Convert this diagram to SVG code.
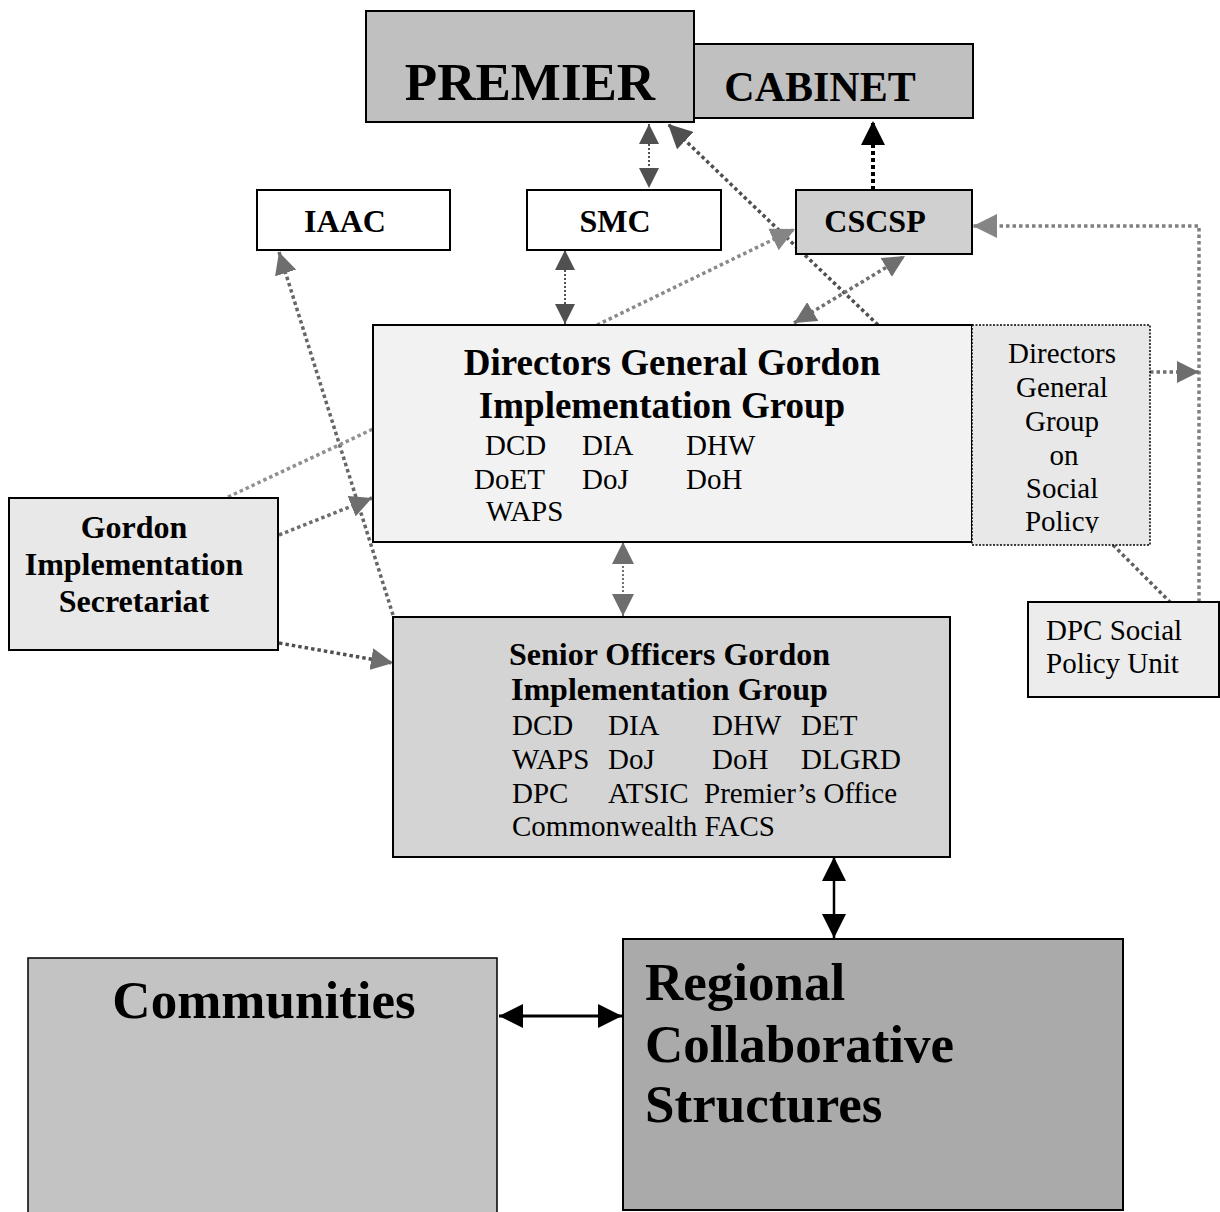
<svg xmlns="http://www.w3.org/2000/svg" width="1220" height="1212" viewBox="0 0 1220 1212">
<style>
text{font-family:"Liberation Serif","Times New Roman",serif;fill:#000}
.b{font-weight:bold}
.box{stroke:#000;stroke-width:2}
.r28{font-size:29px}
.b32{font-size:32px;font-weight:bold}
.thin{fill:none;stroke-width:2;stroke-dasharray:2 2}
.thick{fill:none;stroke-width:3.5;stroke-dasharray:3.5 3}
</style>
<defs>
<marker id="aDark" viewBox="0 0 10 10" refX="10" refY="5" markerWidth="20" markerHeight="20" markerUnits="userSpaceOnUse" orient="auto-start-reverse"><path d="M0,0 L10,5 L0,10 z" fill="#505050"/></marker>
<marker id="aDarkL" viewBox="0 0 10 10" refX="10" refY="5" markerWidth="24" markerHeight="24" markerUnits="userSpaceOnUse" orient="auto-start-reverse"><path d="M0,0 L10,5 L0,10 z" fill="#505050"/></marker>
<marker id="aMid" viewBox="0 0 10 10" refX="10" refY="5" markerWidth="22" markerHeight="22" markerUnits="userSpaceOnUse" orient="auto-start-reverse"><path d="M0,0 L10,5 L0,10 z" fill="#6e6e6e"/></marker>
<marker id="aLight" viewBox="0 0 10 10" refX="10" refY="5" markerWidth="24" markerHeight="24" markerUnits="userSpaceOnUse" orient="auto-start-reverse"><path d="M0,0 L10,5 L0,10 z" fill="#858585"/></marker>
<marker id="aBlack" viewBox="0 0 10 10" refX="10" refY="5" markerWidth="24" markerHeight="24" markerUnits="userSpaceOnUse" orient="auto-start-reverse"><path d="M0,0 L10,5 L0,10 z" fill="#000"/></marker>
<clipPath id="dggClip"><rect x="972" y="325" width="178" height="208"/></clipPath>
</defs>

<rect width="1220" height="1212" fill="#fff"/>

<g id="connectors">
  <line class="thin" x1="649" y1="124" x2="649" y2="188" stroke="#505050" marker-start="url(#aDark)" marker-end="url(#aDark)"/>
  <line x1="873" y1="190" x2="873" y2="121" fill="none" stroke="#000" stroke-width="4" stroke-dasharray="4 3" marker-end="url(#aBlack)"/>
  <line class="thick" x1="878" y1="325" x2="668" y2="124" stroke="#505050" marker-end="url(#aDarkL)"/>
  <line class="thin" x1="565" y1="250" x2="565" y2="324" stroke="#505050" marker-start="url(#aDark)" marker-end="url(#aDark)"/>
  <line class="thick" x1="597" y1="325" x2="795" y2="229" stroke="#8a8a8a" marker-end="url(#aLight)"/>
  <line class="thick" x1="794" y1="323" x2="905" y2="256" stroke="#707070" marker-start="url(#aMid)" marker-end="url(#aMid)"/>
  <polyline class="thick" points="1199,602 1199,226 973,226" stroke="#808080" marker-end="url(#aLight)"/>
  <line class="thick" x1="1150" y1="372" x2="1199" y2="372" stroke="#707070" marker-end="url(#aMid)"/>
  <line class="thick" x1="1113" y1="545" x2="1170" y2="602" stroke="#606060"/>
  <line class="thick" x1="393" y1="615" x2="279" y2="252" stroke="#666" marker-end="url(#aMid)"/>
  <line class="thick" x1="228" y1="497" x2="373" y2="429" stroke="#909090"/>
  <line class="thick" x1="279" y1="535" x2="372" y2="498" stroke="#6e6e6e" marker-end="url(#aMid)"/>
  <line class="thick" x1="279" y1="643" x2="393" y2="663" stroke="#505050" marker-end="url(#aMid)"/>
  <line class="thin" x1="623" y1="542" x2="623" y2="616" stroke="#707070" marker-start="url(#aMid)" marker-end="url(#aMid)"/>
  <line x1="834" y1="857" x2="834" y2="938" stroke="#000" stroke-width="2.5" marker-start="url(#aBlack)" marker-end="url(#aBlack)"/>
  <line x1="499" y1="1016" x2="622" y2="1016" stroke="#000" stroke-width="3" marker-start="url(#aBlack)" marker-end="url(#aBlack)"/>
</g>

<g id="premier">
  <rect class="box" x="366" y="11" width="328" height="111" fill="#c0c0c0"/>
  <text class="b" x="530" y="100" font-size="53" text-anchor="middle">PREMIER</text>
</g>
<g id="cabinet">
  <rect class="box" x="694" y="44" width="279" height="74" fill="#c0c0c0"/>
  <text class="b" x="820" y="101" font-size="42" text-anchor="middle">CABINET</text>
</g>
<g id="iaac">
  <rect class="box" x="257" y="190" width="193" height="60" fill="#fff"/>
  <text class="b32" x="345" y="232" text-anchor="middle">IAAC</text>
</g>
<g id="smc">
  <rect class="box" x="527" y="190" width="194" height="60" fill="#fff"/>
  <text class="b32" x="615" y="232" text-anchor="middle">SMC</text>
</g>
<g id="cscsp">
  <rect class="box" x="796" y="190" width="176" height="64" fill="#d0d0d0"/>
  <text class="b32" x="875" y="232" text-anchor="middle">CSCSP</text>
</g>
<g id="dg-group">
  <rect class="box" x="373" y="325" width="599" height="217" fill="#f2f2f2"/>
  <text class="b" x="672" y="375" font-size="37" text-anchor="middle">Directors General Gordon</text>
  <text class="b" x="662" y="418" font-size="37" text-anchor="middle">Implementation Group</text>
  <g class="r28">
    <text x="485" y="455">DCD</text><text x="582" y="455">DIA</text><text x="686" y="455">DHW</text>
    <text x="474" y="489">DoET</text><text x="582" y="489">DoJ</text><text x="686" y="489">DoH</text>
    <text x="486" y="521">WAPS</text>
  </g>
</g>
<g id="dg-social-policy">
  <rect x="972" y="325" width="178" height="220" fill="#e8e8e8" stroke="#000" stroke-width="1.5" stroke-dasharray="2 1.5"/>
  <g class="r28" text-anchor="middle" clip-path="url(#dggClip)">
    <text x="1062" y="363">Directors</text>
    <text x="1062" y="397">General</text>
    <text x="1062" y="431">Group</text>
    <text x="1064" y="465">on</text>
    <text x="1062" y="498">Social</text>
    <text x="1062" y="531">Policy</text>
  </g>
</g>
<g id="dpc-unit">
  <rect class="box" x="1028" y="602" width="191" height="95" fill="#ececec"/>
  <text class="r28" x="1046" y="640">DPC Social</text>
  <text class="r28" x="1046" y="673">Policy Unit</text>
</g>
<g id="secretariat">
  <rect class="box" x="9" y="498" width="269" height="152" fill="#e8e8e8"/>
  <text class="b32" x="134" y="538" text-anchor="middle">Gordon</text>
  <text class="b32" x="134" y="575" text-anchor="middle">Implementation</text>
  <text class="b32" x="134" y="612" text-anchor="middle">Secretariat</text>
</g>
<g id="senior-officers">
  <rect class="box" x="393" y="617" width="557" height="240" fill="#d4d4d4"/>
  <text class="b" x="509" y="665" font-size="32">Senior Officers Gordon</text>
  <text class="b" x="511" y="700" font-size="32">Implementation Group</text>
  <g class="r28">
    <text x="512" y="735">DCD</text><text x="608" y="735">DIA</text><text x="712" y="735">DHW</text><text x="801" y="735">DET</text>
    <text x="512" y="769">WAPS</text><text x="608" y="769">DoJ</text><text x="712" y="769">DoH</text><text x="801" y="769">DLGRD</text>
    <text x="512" y="803">DPC</text><text x="608" y="803">ATSIC</text><text x="704" y="803">Premier’s Office</text>
    <text x="512" y="836">Commonwealth FACS</text>
  </g>
</g>
<g id="communities">
  <rect x="28" y="958" width="469" height="260" fill="#c3c3c3" stroke="#000" stroke-width="1.5"/>
  <text class="b" x="264" y="1018" font-size="53" text-anchor="middle">Communities</text>
</g>
<g id="regional">
  <rect class="box" x="623" y="939" width="500" height="271" fill="#aaaaaa"/>
  <text class="b" x="645" y="1000" font-size="53">Regional</text>
  <text class="b" x="645" y="1062" font-size="53">Collaborative</text>
  <text class="b" x="645" y="1122" font-size="53">Structures</text>
</g>
</svg>
